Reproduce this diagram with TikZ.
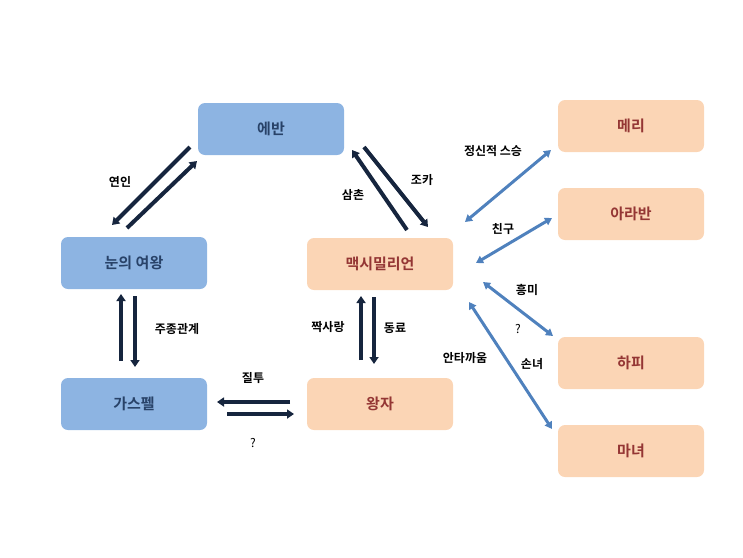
\documentclass[tikz,border=0pt]{standalone}
\usepackage{fontspec}
\setmainfont{Noto Sans CJK KR}[BoldFont={* Bold}]
\usetikzlibrary{arrows.meta}
\definecolor{bbox}{RGB}{141,180,226}
\definecolor{obox}{RGB}{251,213,181}
\definecolor{btext}{RGB}{40,66,104}
\definecolor{otext}{RGB}{148,54,52}
\definecolor{navy}{RGB}{22,37,62}
\definecolor{bline}{RGB}{79,129,189}
\tikzset{
 bx/.style={rounded corners=7pt, minimum width=146pt, minimum height=52pt, font=\bfseries\fontsize{15}{15}\selectfont},
 bluebox/.style={bx, fill=bbox, text=btext},
 orbox/.style={bx, fill=obox, text=otext},
 nav/.style={navy, line width=4pt, -{Triangle[length=7pt,width=9pt]}},
 blu/.style={bline, line width=3pt, {Triangle[length=7pt,width=8pt]}-{Triangle[length=7pt,width=8pt]}},
 lbl/.style={font=\bfseries\fontsize{12}{12}\selectfont, text=black}
}
\begin{document}
\begin{tikzpicture}[x=1pt,y=-1pt]
\useasboundingbox (0,0) rectangle (743,557);
\node[bluebox] (evan) at (271,129) {에반};
\node[bluebox] (queen) at (134,263) {눈의 여왕};
\node[bluebox] (gas) at (134,404) {가스펠};
\node[orbox] (max) at (380,264) {맥시밀리언};
\node[orbox] (prince) at (380,404) {왕자};
\node[orbox] (mary) at (631,126) {메리};
\node[orbox] (arav) at (631,214) {아라반};
\node[orbox] (harpy) at (631,363) {하피};
\node[orbox] (witch) at (631,451) {마녀};
% coordinates
\coordinate (a1) at (190,147); \coordinate (a2) at (112,225);
\coordinate (b1) at (127,228); \coordinate (b2) at (197,161);
\coordinate (c1) at (364,147); \coordinate (c2) at (428,227);
\coordinate (d1) at (407,230); \coordinate (d2) at (352,150);
\coordinate (e1) at (361,360); \coordinate (e2) at (361,296);
\coordinate (f1) at (374,297); \coordinate (f2) at (374,364);
\coordinate (g1) at (121,361); \coordinate (g2) at (121,294);
\coordinate (h1) at (135,296); \coordinate (h2) at (135,367);
\coordinate (i1) at (290,402); \coordinate (i2) at (217,402);
\coordinate (j1) at (227,414); \coordinate (j2) at (294,414);
\coordinate (k1) at (551,150); \coordinate (k2) at (465,222);
\coordinate (l1) at (552,218); \coordinate (l2) at (476,263);
\coordinate (m1) at (483,282); \coordinate (m2) at (553,336);
\coordinate (n1) at (469,302); \coordinate (n2) at (552,429);
\draw[nav] (a1) -- (a2);
\draw[nav] (b1) -- (b2);
\draw[nav] (c1) -- (c2);
\draw[nav] (d1) -- (d2);
\draw[nav] (e1) -- (e2);
\draw[nav] (f1) -- (f2);
\draw[nav] (g1) -- (g2);
\draw[nav] (h1) -- (h2);
\draw[nav] (i1) -- (i2);
\draw[nav] (j1) -- (j2);
\draw[blu] (k1) -- (k2);
\draw[blu] (l1) -- (l2);
\draw[blu] (m1) -- (m2);
\draw[blu] (n1) -- (n2);
\node[lbl] (t1) at (120,182) {연인};
\node[lbl] (t2) at (422,180) {조카};
\node[lbl] (t3) at (353,195) {삼촌};
\node[lbl] (t4) at (328,327) {짝사랑};
\node[lbl] (t5) at (395,328) {동료};
\node[lbl] (t6) at (177,329) {주종관계};
\node[lbl] (t7) at (253,378) {질투};
\node[lbl, font=\fontsize{12}{12}\selectfont] (t8) at (253,443) {?};
\node[lbl] (t9) at (493,151) {정신적 스승};
\node[lbl] (t10) at (503,229) {친구};
\node[lbl] (t11) at (527,290) {흥미};
\node[lbl, font=\fontsize{12}{12}\selectfont] (t12) at (518,329) {?};
\node[lbl] (t13) at (465,358) {안타까움};
\node[lbl] (t14) at (532,364) {손녀};
\end{tikzpicture}
\end{document}
